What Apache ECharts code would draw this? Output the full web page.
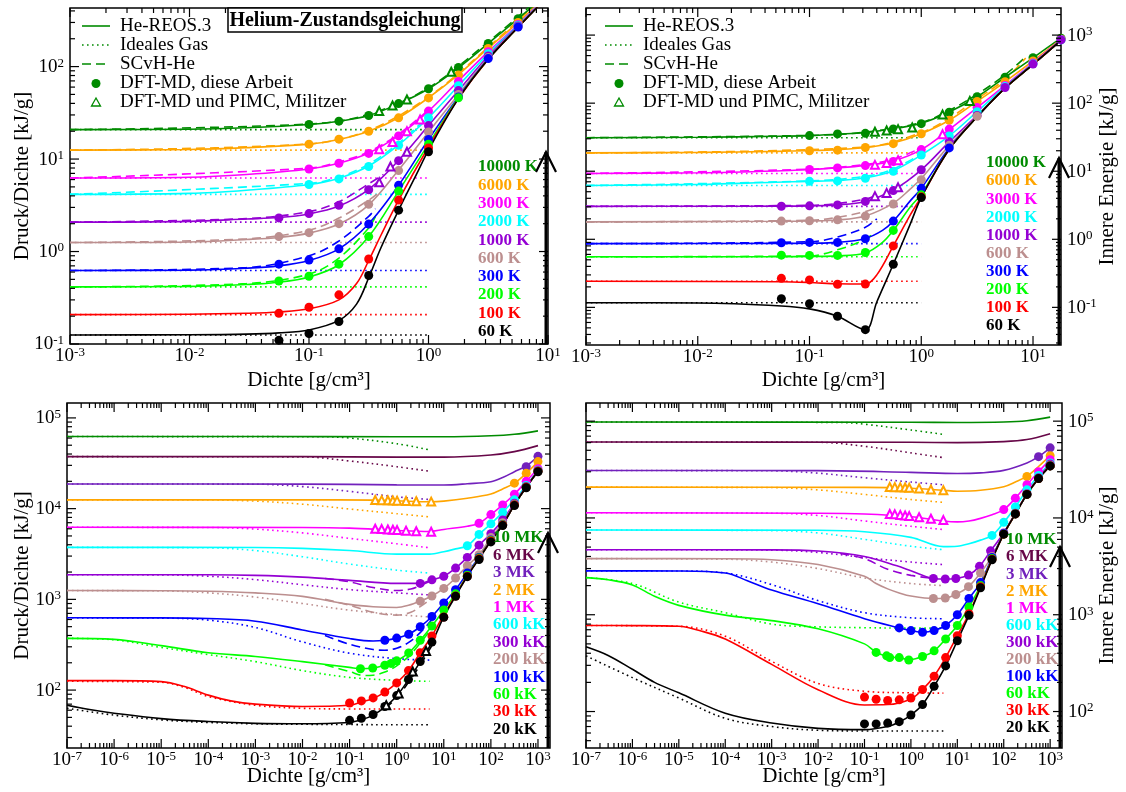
<!DOCTYPE html>
<html><head><meta charset="utf-8">
<script src="https://cdn.jsdelivr.net/npm/echarts@6/dist/echarts.min.js"></script>
<style>html,body{margin:0;padding:0;background:#fff}#c{width:1126px;height:792px}</style>
</head><body><div id="c"></div>
<script>
// ---------------- DATA ----------------
const p1Temps = ['10000 K','6000 K','3000 K','2000 K','1000 K','600 K','300 K','200 K','100 K','60 K'];
const p1Colors = ['#008b00','#ffa500','#ff00ff','#00ffff','#9400d3','#bc8f8f','#0000ff','#00ff00','#ff0000','#000000'];
const p1XTicks = [0.001,0.01,0.1,1,10];
const p1YTicks = [0.1,1,10,100];
const p1IdealRange = [0.001, 1];
const p1Ideal = [20.8,12.5,6.23,4.15,2.08,1.25,0.623,0.415,0.208,0.125];
const p1Reos = [
 [[0.001,20.8],[0.01,21.0],[0.03,21.8],[0.1,23.6],[0.178,25.6],[0.316,29.6],[0.562,39.5],[1,57.5],[1.78,97],[3.16,178],[5.62,330],[8,480]],
 [[0.001,12.5],[0.01,12.7],[0.03,13.3],[0.1,14.5],[0.178,16.3],[0.316,20],[0.562,28],[1,46],[1.78,82],[3.16,158],[5.62,300],[8.3,480]],
 [[0.001,6.23],[0.01,6.35],[0.03,6.8],[0.1,7.8],[0.178,9],[0.316,11.6],[0.562,18],[1,33],[1.78,70],[3.16,145],[5.62,285],[8.4,480]],
 [[0.001,4.15],[0.01,4.25],[0.03,4.6],[0.1,5.3],[0.178,6.2],[0.316,8.4],[0.562,14.2],[1,28],[1.78,62],[3.16,138],[5.62,280],[8.5,480]],
 [[0.001,2.08],[0.01,2.12],[0.03,2.25],[0.056,2.33],[0.1,2.55],[0.178,3.1],[0.316,4.7],[0.562,9.7],[1,23],[1.78,55],[3.16,130],[5.62,275],[8.6,480]],
 [[0.001,1.25],[0.01,1.27],[0.03,1.35],[0.056,1.42],[0.1,1.58],[0.178,1.98],[0.316,3.2],[0.562,7.6],[1,19.6],[1.78,50],[3.16,125],[5.62,270],[8.6,480]],
 [[0.001,0.623],[0.01,0.63],[0.03,0.66],[0.056,0.7],[0.1,0.8],[0.178,1.07],[0.316,2.0],[0.562,5.2],[1,16.3],[1.78,47],[3.16,122],[5.62,268],[8.7,480]],
 [[0.001,0.415],[0.01,0.42],[0.03,0.44],[0.056,0.465],[0.1,0.53],[0.178,0.72],[0.316,1.45],[0.562,4.5],[1,14.5],[1.78,46],[3.16,120],[5.62,266],[8.7,480]],
 [[0.001,0.208],[0.01,0.21],[0.03,0.215],[0.056,0.222],[0.1,0.24],[0.178,0.3],[0.25,0.45],[0.316,0.8],[0.4,1.5],[0.562,3.6],[1,13.5],[1.78,45],[3.16,120],[5.62,266],[8.7,480]],
 [[0.001,0.125],[0.01,0.126],[0.03,0.128],[0.056,0.132],[0.1,0.142],[0.178,0.18],[0.25,0.27],[0.316,0.52],[0.4,1.1],[0.562,2.8],[0.8,7],[1,12.5],[1.78,45],[3.16,120],[5.62,266],[8.7,480]]
];
const p1Scvh = [
 [[0.001,20.8],[0.1,23.9],[0.316,30.5],[1,59],[3.16,185],[7.5,480]],
 [[0.001,12.5],[0.1,14.6],[0.316,20.5],[1,47],[3.16,162],[8,480]],
 [[0.001,6.23],[0.1,7.95],[0.178,9.3],[0.316,12],[0.56,18.5],[1,34]],
 [[0.001,4.15],[0.1,5.45],[0.178,6.4],[0.316,8.8],[0.56,14.8],[1,29]],
 [[0.001,2.08],[0.03,2.27],[0.1,2.7],[0.178,3.45],[0.316,5.4],[0.42,6.8]],
 [[0.001,1.25],[0.03,1.37],[0.1,1.7],[0.178,2.3],[0.316,3.6],[0.38,4.3]],
 [[0.001,0.623],[0.03,0.67],[0.1,0.9],[0.178,1.3],[0.316,2.4],[0.36,2.9]],
 [[0.001,0.415],[0.03,0.45],[0.1,0.57],[0.178,0.85],[0.316,1.8],[0.36,2.4]],
 null, null
];
const p1Dft = [
 [[0.1,23.7],[0.178,25.7],[0.316,29.6],[0.562,39.8],[1,57.6],[1.78,98],[3.16,178],[5.62,330]],
 [[0.1,14.5],[0.178,16.4],[0.316,20],[0.562,27.9],[1,45.8],[1.78,81],[3.16,157],[5.62,300]],
 [[0.1,7.8],[0.178,9],[0.316,11.5],[0.562,17.8],[1,33],[1.78,69],[3.16,145],[5.62,285]],
 [[0.1,5.3],[0.178,6.1],[0.316,8.3],[0.562,14.1],[1,28],[1.78,62],[3.16,138],[5.62,280]],
 [[0.056,2.31],[0.1,2.57],[0.178,3.16],[0.316,4.66],[0.562,9.6],[1,23],[1.78,55],[3.16,130],[5.62,275]],
 [[0.056,1.45],[0.1,1.6],[0.178,2.0],[0.316,3.24],[0.562,7.5],[1,19.6],[1.78,50],[3.16,125],[5.62,270]],
 [[0.056,0.73],[0.1,0.81],[0.178,1.07],[0.316,1.98],[0.562,5.2],[1,16.3],[1.78,47],[3.16,122],[5.62,268]],
 [[0.056,0.48],[0.1,0.54],[0.178,0.73],[0.316,1.45],[0.562,4.5],[1,14.5],[1.78,46]],
 [[0.056,0.215],[0.1,0.25],[0.178,0.34],[0.316,0.83],[0.562,3.6],[1,13.2]],
 [[0.056,0.11],[0.1,0.13],[0.178,0.175],[0.316,0.55],[0.562,2.8],[1,12]]
];
const p1Mil = [
 [[0.387,33],[0.5,38],[0.66,44],[1.55,88]],
 null,
 [[0.387,12.8],[0.5,15.3],[0.66,20],[0.85,26.8]],
 null,
 [[0.387,5.6],[0.48,8.3],[0.66,12]],
 null, null, null, null, null
];

const p2Temps = p1Temps;
const p2Colors = p1Colors;
const p2XTicks = [0.001,0.01,0.1,1,10];
const p2YTicks = [0.1,1,10,100,1000];
const p2IdealRange = [0.001, 1];
const p2Ideal = [31.1,18.6,9.28,6.16,3.05,1.80,0.865,0.553,0.242,0.117];
const p2Reos = [
 [[0.001,31.1],[0.01,31.5],[0.05,32.6],[0.1,33.4],[0.178,35],[0.316,37],[0.562,42],[1,50.5],[1.78,74],[3.16,124],[5.62,240],[10,464],[18,920]],
 [[0.001,18.6],[0.01,18.9],[0.05,19.6],[0.1,20.1],[0.178,20.8],[0.316,22.3],[0.562,26],[1,35.5],[1.78,56],[3.16,106],[5.62,206],[10,417],[18,880]],
 [[0.001,9.28],[0.01,9.5],[0.05,10.1],[0.1,10.6],[0.178,11.2],[0.316,12.2],[0.562,14.2],[1,20.8],[1.78,41],[3.16,86],[5.62,182],[10,390],[18,870]],
 [[0.001,6.16],[0.01,6.4],[0.05,6.9],[0.1,7.1],[0.178,7.3],[0.316,8],[0.562,10.2],[1,17.3],[1.78,33],[3.16,75],[5.62,175],[10,380],[18,860]],
 [[0.001,3.05],[0.01,3.06],[0.056,3.07],[0.1,3.1],[0.178,3.2],[0.316,3.6],[0.562,5.3],[1,10.5],[1.78,27],[3.16,66],[5.62,170],[10,375],[18,855]],
 [[0.001,1.8],[0.056,1.84],[0.1,1.86],[0.178,1.92],[0.316,2.2],[0.562,3.4],[0.8,5.5],[1,7.8],[1.78,24],[3.16,64],[5.62,168],[10,372],[18,850]],
 [[0.001,0.865],[0.056,0.87],[0.1,0.875],[0.178,0.9],[0.316,1.03],[0.45,1.35],[0.562,1.85],[0.8,3.7],[1,5.6],[1.78,22],[3.16,63],[5.62,167],[10,370],[18,850]],
 [[0.001,0.553],[0.056,0.555],[0.1,0.56],[0.178,0.57],[0.316,0.63],[0.45,0.9],[0.562,1.35],[0.8,3],[1,4.6],[1.78,21],[3.16,63],[5.62,166],[10,370],[18,850]],
 [[0.001,0.242],[0.056,0.238],[0.1,0.232],[0.178,0.222],[0.316,0.22],[0.4,0.3],[0.562,0.8],[0.8,2.3],[1,4.2],[1.78,21],[3.16,63],[5.62,166],[10,370],[18,850]],
 [[0.001,0.117],[0.01,0.116],[0.056,0.105],[0.1,0.095],[0.178,0.074],[0.316,0.047],[0.4,0.12],[0.562,0.43],[0.8,1.7],[1,4.1],[1.78,21],[3.16,63],[5.62,166],[10,370],[18,850]]
];
const p2Scvh = [
 [[0.001,31.1],[0.1,33.6],[0.316,37.5],[1,52],[1.78,78],[3.16,135],[5.62,260],[8.6,480]],
 [[0.001,18.6],[0.316,22.6],[1,37],[1.78,60],[3.16,115],[5.62,225],[8.6,460]],
 [[0.001,9.28],[0.1,10.7],[0.316,12.6],[0.562,15],[1,22]],
 [[0.001,6.16],[0.1,7.2],[0.316,8.4],[0.562,10.8],[1,18]],
 [[0.001,3.05],[0.1,3.15],[0.178,3.35],[0.316,3.9],[0.4,4.4]],
 [[0.001,1.8],[0.1,1.9],[0.178,2.1],[0.316,2.55],[0.4,2.9]],
 [[0.001,0.865],[0.1,0.92],[0.178,1.08],[0.316,1.5],[0.4,2.0]],
 [[0.001,0.553],[0.1,0.57],[0.178,0.7],[0.316,1.0],[0.38,1.25]],
 null, null
];
const p2Dft = [
 [[0.1,33.4],[0.178,35.3],[0.316,36],[0.562,41.7],[1,50],[1.78,73.6],[3.16,124],[5.62,240],[10,464],[17.8,900]],
 [[0.1,20],[0.178,20.4],[0.316,22.3],[0.562,25.4],[1,35.5],[1.78,56],[3.16,106],[5.62,206],[10,417],[17.8,870]],
 [[0.1,10.6],[0.178,11.2],[0.316,12.1],[0.562,13.9],[1,20.8],[1.78,41.6],[3.16,86],[5.62,182],[10,390],[17.8,860]],
 [[0.1,7.1],[0.178,7.2],[0.316,7.9],[0.562,10],[1,17.3],[1.78,33],[3.16,75],[5.62,175],[10,380],[17.8,850]],
 [[0.056,3.06],[0.1,3.1],[0.178,3.2],[0.316,3.6],[0.562,5.2],[1,10.5],[1.78,27],[3.16,66],[5.62,170],[10,375],[17.8,850]],
 [[0.056,1.85],[0.1,1.87],[0.178,1.93],[0.316,2.19],[0.562,3.3],[1,7.5],[1.78,24],[3.16,64]],
 [[0.056,0.89],[0.1,0.9],[0.178,0.9],[0.316,1.02],[0.562,1.85],[1,5.6],[1.78,22]],
 [[0.056,0.585],[0.1,0.58],[0.178,0.58],[0.316,0.64],[0.562,1.35],[1,4.5]],
 [[0.056,0.267],[0.1,0.253],[0.178,0.219],[0.316,0.22],[0.562,0.8],[1,4.2]],
 [[0.056,0.134],[0.1,0.113],[0.178,0.074],[0.316,0.047],[0.562,0.43],[1,4.1]]
];
const p2Mil = [
 [[0.385,38],[0.49,39.7],[0.62,41.5],[0.83,44],[1.55,68],[2.72,108]],
 null,
 [[0.385,12.4],[0.49,13.2],[0.62,14.5],[1.55,35]],
 null,
 [[0.385,4.3],[0.49,4.8],[0.62,5.8]],
 null, null, null, null, null
];

const p3Temps = ['10 MK','6 MK','3 MK','2 MK','1 MK','600 kK','300 kK','200 kK','100 kK','60 kK','30 kK','20 kK'];
const p3Colors = ['#008b00','#670748','#7221bc','#ffa500','#ff00ff','#00ffff','#9400d3','#bc8f8f','#0000ff','#00ff00','#ff0000','#000000'];
const p3XTicks = [1e-7,1e-6,1e-5,1e-4,1e-3,1e-2,1e-1,1,10,100,1000];
const p3YTicks = [100,1000,10000,100000];
const p3Reos = [
 [[1e-7,62300],[1e-3,62300],[1,62000],[10,62000],[100,63500],[316,66000],[1000,72000]],
 [[1e-7,37400],[1e-2,37400],[1,37000],[10,37000],[100,39000],[316,42500],[1000,49500]],
 [[1e-7,18700],[1e-2,18650],[1,18300],[10,18200],[31.6,18800],[100,19800],[178,22000],[316,25500],[562,29500],[1000,37700]],
 [[1e-7,12500],[1e-2,12500],[0.316,12400],[1,12200],[5,11900],[10,12100],[31.6,13000],[100,14500],[178,16500],[316,19100],[562,24500],[1000,33000]],
 [[1e-7,6230],[1e-2,6200],[0.1,6100],[1,5750],[5,5600],[10,5900],[31.6,6400],[56,6900],[100,8600],[178,11000],[316,14400],[562,20000],[1000,27500]],
 [[1e-7,3740],[1e-3,3730],[0.01,3650],[0.1,3450],[1,3150],[5,3150],[10,3350],[17.8,3600],[31.6,3900],[56,5200],[100,6800],[178,9100],[316,12500],[562,18000],[1000,26500]],
 [[1e-7,1870],[1e-4,1865],[1e-3,1840],[0.01,1760],[0.1,1620],[1,1500],[3.16,1500],[5.6,1640],[10,1800],[17.8,2210],[31.6,2900],[56,3960],[100,5300],[178,7500],[316,11500],[562,17500],[1000,26200]],
 [[1e-7,1250],[1e-5,1245],[1e-4,1230],[1e-3,1180],[0.01,1080],[0.1,880],[0.316,830],[1,815],[1.78,860],[3.16,955],[5.6,1090],[10,1320],[17.8,1720],[31.6,2350],[56,3100],[100,4800],[178,7000],[316,11200],[562,17300],[1000,26000]],
 [[1e-7,626],[1e-5,625],[1e-4,615],[1e-3,575],[0.01,460],[0.1,370],[0.316,347],[0.56,354],[1,374],[1.8,413],[3.16,499],[5.6,648],[10,913],[17.8,1280],[31.6,1950],[56,2900],[100,4500],[178,6700],[316,11000],[562,17200],[1000,25800]],
 [[1e-7,372],[1e-6,362],[1e-5,309],[1e-4,258],[1e-3,235],[0.01,206],[0.1,178],[0.17,172],[0.31,175],[0.56,188],[1,210],[1.8,257],[3.16,354],[5.6,508],[10,763],[17.8,1150],[31.6,1850],[56,2850],[100,4450],[178,6650],[316,11000],[562,17200],[1000,25800]],
 [[1e-7,127],[1e-6,127],[1e-5,124],[3e-5,110],[1e-4,88],[3e-4,76],[1e-3,70],[0.01,66],[0.1,68],[0.178,74],[0.316,81],[0.56,95],[1,120],[1.78,164],[3.16,258],[5.6,395],[10,680],[17.8,1110],[31.6,1820],[56,2820],[100,4420],[178,6620],[316,11000],[562,17200],[1000,25800]],
 [[1e-7,68],[3e-7,61],[1e-6,55.6],[1e-5,48.5],[1e-4,45],[1e-3,43],[0.01,42.5],[0.1,44],[0.178,47],[0.316,53],[0.56,65],[1,86],[1.78,130],[3.16,205],[5.6,336],[10,640],[17.8,1090],[31.6,1800],[56,2800],[100,4400],[178,6600],[316,11000],[562,17200],[1000,25800]]
];
const p3Ideal = [
 [[1e-7,62300],[0.03,62000],[0.1,60000],[1,52000],[5,44400]],
 [[1e-7,37400],[0.01,37200],[0.1,33500],[1,29000],[5,25800]],
 [[1e-7,18700],[1e-3,18600],[0.01,17500],[0.1,15500],[1,13500],[5,12600]],
 [[1e-7,12500],[1e-4,12450],[1e-3,12100],[0.01,11200],[0.1,9900],[1,8800],[5,8100]],
 [[1e-7,6230],[1e-4,6200],[1e-3,5950],[0.01,5400],[0.1,4700],[1,4100],[5,3700]],
 [[1e-7,3740],[1e-4,3700],[1e-3,3450],[0.01,2950],[0.1,2450],[1,2100],[5,1950]],
 [[1e-7,1870],[1e-5,1860],[1e-4,1800],[1e-3,1650],[0.01,1450],[0.1,1280],[1,1180],[5,1120]],
 [[1e-7,1250],[1e-5,1240],[1e-4,1180],[1e-3,1060],[0.01,900],[0.1,760],[1,680],[5,640]],
 [[1e-7,626],[1e-5,622],[1e-4,590],[1e-3,490],[0.01,340],[0.1,255],[1,222],[5,214]],
 [[1e-7,372],[1e-6,358],[1e-5,295],[1e-4,246],[1e-3,206],[0.01,164],[0.1,138],[1,128],[5,125]],
 [[1e-7,125],[1e-5,122],[3e-5,108],[1e-4,85],[1e-3,68],[0.01,63],[0.1,62],[1,62],[5,62]],
 [[1e-7,63],[1e-6,53],[1e-5,47],[1e-4,44],[1e-3,42.5],[0.01,42],[0.1,41.7],[1,41.5],[5,41.5]]
];
const p3Scvh = [
 null, null, null, null, null, null,
 [[0.03,1700],[0.1,1560],[0.316,1350],[1,1250],[2,1300],[3.16,1420],[5.6,1620]],
 [[0.03,1000],[0.1,860],[0.316,720],[1,670],[2,720],[3.16,830],[5.6,1030]],
 [[0.03,400],[0.1,320],[0.316,280],[0.56,275],[1,290],[1.8,335],[3.16,430],[5.6,600]],
 [[0.03,190],[0.1,160],[0.2,145],[0.316,146],[0.56,158],[1,185],[1.8,235],[3.16,330],[5.6,480]],
 null,
 [[0.56,63],[1,82],[1.78,122],[3.16,190],[5.6,310]]
];
const p3Dft = [
 null, null,
 [[562,29000],[1000,37700]],
 [[316,19100],[562,24500],[1000,33000]],
 [[56,6900],[100,8600],[178,11000],[316,14400],[562,20000],[1000,27500]],
 [[31.6,3900],[56,5200],[100,6800],[178,9100],[316,12500],[562,18000],[1000,26500]],
 [[3.16,1500],[5.6,1640],[10,1800],[17.8,2210],[31.6,2900],[56,3960],[100,5300],[178,7500],[316,11500],[562,17500],[1000,26200]],
 [[3.16,955],[5.6,1090],[10,1320],[17.8,1720],[31.6,2350],[56,3100],[100,4800],[178,7000],[316,11200],[562,17300],[1000,26000]],
 [[0.56,354],[1,374],[1.8,413],[3.16,499],[5.6,648],[10,913],[17.8,1280],[31.6,1950],[56,2900],[100,4500],[178,6700],[316,11000],[562,17200],[1000,25800]],
 [[0.17,172],[0.31,175],[0.56,188],[0.76,197],[1,210],[1.8,257],[3.16,354],[5.6,508],[10,763],[17.8,1150],[31.6,1850],[56,2850],[100,4450],[178,6650],[316,11000],[562,17200],[1000,25800]],
 [[0.1,72],[0.178,76],[0.316,82],[0.56,95],[1,120],[1.78,164],[3.16,258],[5.6,395],[10,640],[17.8,1090],[31.6,1800],[56,2800],[100,4400],[178,6600],[316,11000],[562,17200],[1000,25800]],
 [[0.1,46.4],[0.178,49],[0.316,53.8],[0.56,66],[1,87],[1.78,131],[3.16,206],[5.6,338],[10,636],[17.8,1080],[31.6,1780],[56,2750],[100,4300],[178,6500],[316,10800],[562,17000],[1000,25500]]
];
const p3Mil = [
 null, null, null,
 [[0.35,12450],[0.48,12400],[0.65,12350],[0.83,12300],[1.02,12250],[1.58,12150],[2.6,12050],[5.4,11950]],
 [[0.35,6000],[0.48,5950],[0.65,5900],[0.83,5850],[1.02,5800],[1.58,5720],[2.6,5640],[5.4,5560]],
 null, null, null, null, null, null,
 [[0.6,68],[1.1,92],[2.2,160],[4.2,270]]
];

const p4Temps = p3Temps;
const p4Colors = p3Colors;
const p4XTicks = p3XTicks;
const p4YTicks = [100,1000,10000,100000];
const p4Reos = [
 [[1e-7,98000],[1,97500],[10,97000],[100,98000],[316,101000],[1000,110000]],
 [[1e-7,61000],[1,60500],[10,60000],[100,61500],[316,64500],[1000,74000]],
 [[1e-7,30900],[0.01,30800],[1,29600],[10,28800],[31.6,29200],[100,31000],[316,37000],[562,43000],[1000,53000]],
 [[1e-7,20800],[0.1,20700],[1,20300],[5,19300],[10,18900],[31.6,19300],[100,21000],[178,23500],[316,27000],[562,34000],[1000,44000]],
 [[1e-7,11300],[0.01,11200],[0.1,11000],[1,10300],[5,9300],[10,9100],[17.8,9300],[31.6,9900],[56,10800],[100,12200],[178,16000],[316,22000],[562,30000],[1000,40000]],
 [[1e-7,7500],[0.01,7450],[0.1,7200],[1,6300],[5,5050],[10,5100],[17.8,5400],[31.6,5900],[56,6600],[100,9000],[178,13000],[316,19500],[562,27500],[1000,37000]],
 [[1e-7,4700],[1e-3,4680],[0.01,4550],[0.1,4000],[0.5,3200],[1,2850],[3.05,2370],[5.5,2340],[9.3,2370],[17.4,2570],[30,3160],[52,4570],[100,7000],[178,11200],[316,17800],[562,26000],[1000,36000]],
 [[1e-7,3800],[1e-4,3790],[1e-3,3700],[0.01,3300],[0.1,2500],[0.178,2100],[0.316,1850],[0.56,1680],[1,1560],[3.05,1470],[5.5,1490],[9.3,1620],[17.4,1950],[31.6,2700],[56,4000],[100,6900],[178,11100],[316,17600],[562,25500],[1000,35000]],
 [[1e-7,2840],[1e-5,2830],[1e-4,2700],[3e-4,2250],[1e-3,1800],[0.01,1300],[0.1,910],[0.56,731],[1,686],[1.78,660],[3.16,686],[5.6,774],[10,1000],[17.8,1470],[31.6,2150],[56,3900],[100,6900],[178,11000],[316,17500],[562,25500],[1000,34500]],
 [[1e-7,2420],[3e-7,2300],[1e-6,2030],[3e-6,1550],[1e-5,1250],[1e-4,990],[1e-3,870],[0.01,715],[0.1,500],[0.178,410],[0.316,370],[0.56,358],[1,345],[1.78,370],[3.16,424],[5.6,562],[10,774],[17.8,1200],[31.6,2000],[56,3800],[100,6800],[178,11000],[316,17500],[562,25500],[1000,34500]],
 [[1e-7,774],[1e-6,772],[1e-5,760],[3e-5,680],[1e-4,561],[1e-3,307],[0.01,168],[0.1,117],[0.316,118],[1,135],[1.78,169],[3.16,232],[5.6,361],[10,608],[17.8,1024],[31.6,1950],[56,3750],[100,6800],[178,11000],[316,17500],[562,25500],[1000,34500]],
 [[1e-7,467],[3e-7,380],[1e-6,273],[3e-6,200],[1e-5,156],[1e-4,96],[1e-3,76],[0.01,67],[0.1,65],[0.316,70],[0.56,78],[1,92],[1.78,118],[3.16,182],[5.6,296],[10,539],[17.8,985],[31.6,1900],[56,3700],[100,6800],[178,11000],[316,17500],[562,25500],[1000,34500]]
];
const p4Ideal = [
 [[1e-7,98000],[0.03,97000],[0.1,93000],[1,81000],[5,73000]],
 [[1e-7,61000],[0.01,60500],[0.1,55000],[1,47000],[5,42000]],
 [[1e-7,30900],[1e-3,30700],[0.01,29000],[0.1,26000],[1,23500],[5,22000]],
 [[1e-7,20800],[1e-3,20600],[0.01,19500],[0.1,17500],[1,15500],[5,14500]],
 [[1e-7,11300],[1e-3,11200],[0.01,10600],[0.1,9300],[1,8200],[5,7600]],
 [[1e-7,7500],[1e-3,7400],[0.01,7000],[0.1,6000],[1,5100],[5,4700]],
 [[1e-7,4700],[1e-3,4650],[0.01,4400],[0.1,3900],[1,3500],[5,3300]],
 [[1e-7,3800],[1e-4,3750],[1e-3,3500],[0.01,3000],[0.1,2400],[1,2100],[5,2000]],
 [[1e-7,2840],[1e-5,2830],[1e-4,2700],[1e-3,2050],[0.01,1400],[0.1,1050],[1,930],[5,910]],
 [[1e-7,2420],[1e-6,2100],[1e-5,1350],[1e-4,1050],[1e-3,800],[0.01,750],[0.1,735],[1,728],[5,728]],
 [[1e-7,774],[1e-5,760],[1e-4,600],[1e-3,330],[0.01,195],[0.1,162],[1,156],[5,155]],
 [[1e-7,376],[1e-6,224],[1e-5,138],[1e-4,85],[1e-3,70],[0.01,64],[0.1,63],[1,63],[5,63]]
];
const p4Scvh = [
 null, null, null, null, null, null,
 [[0.03,4300],[0.1,3800],[0.316,2950],[1,2550],[3.05,2380]],
 null, null, null, null, null
];
const p4Dft = [
 null, null,
 [[562,43000],[1000,53000]],
 [[316,26800],[1000,44000]],
 [[100,12200],[178,16000],[316,22000],[562,30000],[1000,40000]],
 [[56,6600],[100,9000],[178,13000],[316,19500],[562,27500],[1000,37000]],
 [[3.05,2370],[5.5,2340],[9.3,2370],[17.4,2570],[30,3160],[52,4570],[100,7000],[178,11200],[316,17800],[562,26000],[1000,36000]],
 [[3.05,1470],[5.5,1490],[9.3,1620],[17.4,1950],[31.6,2700],[56,4000],[100,6900],[178,11100],[316,17600],[562,25500],[1000,35000]],
 [[0.56,731],[1,686],[1.78,660],[3.16,686],[5.6,774],[10,1000],[17.8,1470],[31.6,2150],[56,3900],[100,6900],[178,11000],[316,17500],[562,25500],[1000,34500]],
 [[0.178,408],[0.3,376],[0.35,361],[0.56,361],[0.9,341],[1.78,370],[3.16,424],[5.6,562],[10,774],[17.8,1200],[31.6,2000],[56,3800],[100,6800],[178,11000],[316,17500],[562,25500],[1000,34500]],
 [[0.1,141],[0.178,134],[0.316,130],[0.56,132],[1,138],[1.78,169],[3.16,232],[5.6,361],[10,608],[17.8,1024],[31.6,1950],[56,3750],[100,6800],[178,11000],[316,17500],[562,25500],[1000,34500]],
 [[0.1,74.5],[0.178,74.5],[0.316,76],[0.56,78.6],[1,92],[1.78,118],[3.16,182],[5.6,296],[10,539],[17.8,985],[31.6,1900],[56,3700],[100,6800],[178,11000],[316,17500],[562,25500],[1000,34500]]
];
const p4Mil = [
 null, null, null,
 [[0.35,20900],[0.45,20800],[0.59,20700],[0.75,20600],[0.92,20500],[1.5,20200],[2.7,19700],[5,19300]],
 [[0.35,11000],[0.45,10900],[0.59,10750],[0.75,10600],[0.92,10450],[1.5,10150],[2.7,9800],[5,9500]],
 null, null, null, null, null, null, null
];

const legendLabels = ['He-REOS.3','Ideales Gas','SCvH-He','DFT-MD, diese Arbeit','DFT-MD und PIMC, Militzer'];
const titleText = 'Helium-Zustandsgleichung';
const xTitle = 'Dichte [g/cm³]';
const yTitlePressure = 'Druck/Dichte [kJ/g]';
const yTitleEnergy = 'Innere Energie [kJ/g]';
const minorMult = [2,3,4,5,6,7,8,9];

// ---------------- LAYOUT ----------------
const FONT = "'Liberation Serif','Times New Roman',serif";
const SMOOTH = 0.35;
const panels = [
 {temps:p1Temps, colors:p1Colors, reos:p1Reos, ideal:p1Ideal.map(v=>[[p1IdealRange[0],v],[p1IdealRange[1],v]]), scvh:p1Scvh, dft:p1Dft, mil:p1Mil,
  xTicks:p1XTicks, yTicks:p1YTicks, xr:[0.001,10], yr:[0.1,430], g:[70,8,478,336], ySide:'left', yTitle:yTitlePressure, xGap:26, yGap:37,
  lab:{x:478,y:167,dy:18.3}, arrow:{x:546,tip:152}},
 {temps:p2Temps, colors:p2Colors, reos:p2Reos, ideal:p2Ideal.map(v=>[[p2IdealRange[0],v],[p2IdealRange[1],v]]), scvh:p2Scvh, dft:p2Dft, mil:p2Mil,
  xTicks:p2XTicks, yTicks:p2YTicks, xr:[0.001,17.8], yr:[0.028,2500], g:[586,8,475,337], ySide:'right', yTitle:yTitleEnergy, xGap:25, yGap:36,
  lab:{x:986,y:163,dy:18.1}, arrow:{x:1059,tip:158}},
 {temps:p3Temps, colors:p3Colors, reos:p3Reos, ideal:p3Ideal, scvh:p3Scvh, dft:p3Dft, mil:p3Mil,
  xTicks:p3XTicks, yTicks:p3YTicks, xr:[1e-7,1800], yr:[23,146000], g:[67,403,483,345], ySide:'left', yTitle:yTitlePressure, xGap:18, yGap:34,
  lab:{x:493,y:538,dy:17.4}, arrow:{x:548,tip:533}},
 {temps:p4Temps, colors:p4Colors, reos:p4Reos, ideal:p4Ideal, scvh:p4Scvh, dft:p4Dft, mil:p4Mil,
  xTicks:p4XTicks, yTicks:p4YTicks, xr:[1e-7,1800], yr:[42,154000], g:[586,403,476,345], ySide:'right', yTitle:yTitleEnergy, xGap:18, yGap:35,
  lab:{x:1006,y:540,dy:17.1}, arrow:{x:1060,tip:547}}
];

function tickLabelStyle(v, align, valign) {
  const e = Math.round(Math.log10(v));
  return {
    text: '{b|10}{s|' + e + '}',
    rich: {
      b: {fontFamily: FONT, fontSize: 19, fill: '#000', lineHeight: 20, verticalAlign: 'bottom'},
      s: {fontFamily: FONT, fontSize: 13, fill: '#000', lineHeight: 20, verticalAlign: 'top'}
    },
    fill: '#000', align: align, verticalAlign: valign, textAlign: align, textVerticalAlign: valign
  };
}

function tickSeries(P, gi) {
  const data = [];
  const add = (majors, lo, hi, isY) => {
    const bases = [majors[0] / 10].concat(majors);
    bases.forEach((b, bi) => {
      [1].concat(minorMult).forEach(m => {
        const v = b * m;
        if (v >= lo * 0.9999 && v <= hi * 1.0001) {
          const major = (m === 1 && bi > 0) ? 1 : 0;
          data.push(isY ? [P.xr[0], v, 1, major] : [v, P.yr[0], 0, major]);
        }
      });
    });
  };
  add(P.xTicks, P.xr[0], P.xr[1], false);
  add(P.yTicks, P.yr[0], P.yr[1], true);
  return {
    type: 'custom', xAxisIndex: gi, yAxisIndex: gi, data: data, silent: true, z: 8,
    encode: {x: 0, y: 1}, clip: false, animation: false,
    renderItem: function (params, api) {
      const cs = params.coordSys;
      const p = api.coord([api.value(0), api.value(1)]);
      const isY = api.value(2) === 1, major = api.value(3) === 1;
      const L = major ? 9 : 5;
      const st = {stroke: '#000', lineWidth: 1.2};
      const ch = [];
      if (!isY) {
        const x = p[0], yb = cs.y + cs.height, yt = cs.y;
        ch.push({type: 'line', shape: {x1: x, y1: yb, x2: x, y2: yb - L}, style: st});
        ch.push({type: 'line', shape: {x1: x, y1: yt, x2: x, y2: yt + L}, style: st});
        if (major) ch.push({type: 'text', x: x, y: yb + 2, style: tickLabelStyle(api.value(0), 'center', 'top')});
      } else {
        const y = p[1], xl = cs.x, xr = cs.x + cs.width;
        ch.push({type: 'line', shape: {x1: xl, y1: y, x2: xl + L, y2: y}, style: st});
        ch.push({type: 'line', shape: {x1: xr, y1: y, x2: xr - L, y2: y}, style: st});
        if (major) {
          if (P.ySide === 'left') ch.push({type: 'text', x: xl - 6, y: y, style: tickLabelStyle(api.value(1), 'right', 'middle')});
          else ch.push({type: 'text', x: xr + 6, y: y, style: tickLabelStyle(api.value(1), 'left', 'middle')});
        }
      }
      return {type: 'group', children: ch};
    }
  };
}

const grids = [], xAxes = [], yAxes = [], series = [], graphics = [];
panels.forEach((P, gi) => {
  grids.push({left: P.g[0], top: P.g[1], width: P.g[2], height: P.g[3], show: true, borderColor: '#000', borderWidth: 1.5, backgroundColor: 'transparent'});
  const hid = {axisLine: {show: false}, axisTick: {show: false}, axisLabel: {show: false}, splitLine: {show: false}, minorTick: {show: false}};
  xAxes.push(Object.assign({type: 'log', logBase: 10, gridIndex: gi, min: P.xr[0], max: P.xr[1],
    name: xTitle, nameLocation: 'middle', nameGap: P.xGap, nameTextStyle: {fontFamily: FONT, fontSize: 21, color: '#000'}}, hid));
  yAxes.push(Object.assign({type: 'log', logBase: 10, gridIndex: gi, position: P.ySide, min: P.yr[0], max: P.yr[1],
    name: P.yTitle, nameLocation: 'middle', nameRotate: 90, nameGap: P.yGap, nameTextStyle: {fontFamily: FONT, fontSize: 21, color: '#000'}}, hid));
  const common = {xAxisIndex: gi, yAxisIndex: gi, silent: true, animation: false, emphasis: {disabled: true}};
  P.temps.forEach((t, i) => {
    const c = P.colors[i];
    if (P.ideal[i]) series.push(Object.assign({type: 'line', name: t + ' Ideales Gas', data: P.ideal[i], showSymbol: false, symbol: 'none',
      smooth: SMOOTH, lineStyle: {color: c, width: 1.6, type: [1.6, 3.4]}, z: 2}, common));
    if (P.scvh[i]) series.push(Object.assign({type: 'line', name: t + ' SCvH-He', data: P.scvh[i], showSymbol: false, symbol: 'none',
      smooth: SMOOTH, lineStyle: {color: c, width: 1.6, type: [9, 5]}, z: 3}, common));
    series.push(Object.assign({type: 'line', name: t + ' He-REOS.3', data: P.reos[i], showSymbol: false, symbol: 'none',
      smooth: SMOOTH, lineStyle: {color: c, width: 1.6}, z: 4}, common));
  });
  P.temps.forEach((t, i) => {
    const c = P.colors[i];
    if (P.dft[i]) series.push(Object.assign({type: 'scatter', name: t + ' DFT-MD', data: P.dft[i], symbol: 'circle', symbolSize: 9,
      itemStyle: {color: c, opacity: 1}, z: 5}, common));
    if (P.mil[i]) series.push(Object.assign({type: 'scatter', name: t + ' Militzer', data: P.mil[i], symbol: 'emptyTriangle', symbolSize: 8,
      itemStyle: {color: c, borderColor: c, borderWidth: 1.3, opacity: 1}, z: 6}, common));
  });
  series.push(tickSeries(P, gi));

  P.temps.forEach((t, i) => {
    graphics.push({type: 'text', x: P.lab.x, y: P.lab.y + i * P.lab.dy, z: 50, silent: true,
      style: {text: t, fill: P.colors[i], font: 'bold 17px ' + FONT, verticalAlign: 'middle', textVerticalAlign: 'middle', align: 'left', textAlign: 'left'}});
  });
  const bottom = P.g[1] + P.g[3];
  graphics.push({type: 'line', z: 50, silent: true, shape: {x1: P.arrow.x, y1: P.arrow.tip, x2: P.arrow.x, y2: bottom}, style: {stroke: '#000', lineWidth: 3}});
  graphics.push({type: 'polyline', z: 50, silent: true, shape: {points: [[P.arrow.x - 10, P.arrow.tip + 20], [P.arrow.x, P.arrow.tip], [P.arrow.x + 10, P.arrow.tip + 20]]},
    style: {stroke: '#000', lineWidth: 2.2, fill: null}});
});

const legendGreen = '#008b00';
[[82, 26], [605, 26]].forEach(pos => {
  const lx = pos[0], rowY = [pos[1], pos[1] + 19, pos[1] + 38, pos[1] + 57.5, pos[1] + 76.5];
  graphics.push({type: 'line', z: 60, silent: true, shape: {x1: lx, y1: rowY[0], x2: lx + 28, y2: rowY[0]}, style: {stroke: legendGreen, lineWidth: 1.6}});
  graphics.push({type: 'line', z: 60, silent: true, shape: {x1: lx, y1: rowY[1], x2: lx + 28, y2: rowY[1]}, style: {stroke: legendGreen, lineWidth: 1.6, lineDash: [1.6, 3.4]}});
  graphics.push({type: 'line', z: 60, silent: true, shape: {x1: lx, y1: rowY[2], x2: lx + 28, y2: rowY[2]}, style: {stroke: legendGreen, lineWidth: 1.6, lineDash: [9, 5]}});
  graphics.push({type: 'circle', z: 60, silent: true, shape: {cx: lx + 14, cy: rowY[3], r: 4.5}, style: {fill: legendGreen}});
  graphics.push({type: 'polygon', z: 60, silent: true, shape: {points: [[lx + 14, rowY[4] - 4.5], [lx + 18.5, rowY[4] + 3.5], [lx + 9.5, rowY[4] + 3.5]]}, style: {fill: '#fff', stroke: legendGreen, lineWidth: 1.3}});
  legendLabels.forEach((s, k) => {
    graphics.push({type: 'text', z: 60, silent: true, x: lx + 38, y: rowY[k],
      style: {text: s, fill: '#000', font: '19px ' + FONT, verticalAlign: 'middle', textVerticalAlign: 'middle'}});
  });
});
graphics.push({type: 'rect', z: 60, silent: true, shape: {x: 228, y: 8, width: 234, height: 24}, style: {fill: '#fff', stroke: '#000', lineWidth: 1.5}});
graphics.push({type: 'text', z: 61, silent: true, x: 345, y: 20.5,
  style: {text: titleText, fill: '#000', font: 'bold 20px ' + FONT, align: 'center', textAlign: 'center', verticalAlign: 'middle', textVerticalAlign: 'middle'}});

const chart = echarts.init(document.getElementById('c'), null, {renderer: 'canvas'});
chart.setOption({
  animation: false,
  backgroundColor: '#fff',
  grid: grids, xAxis: xAxes, yAxis: yAxes, series: series,
  graphic: {elements: graphics}
});
</script>
</body></html>
